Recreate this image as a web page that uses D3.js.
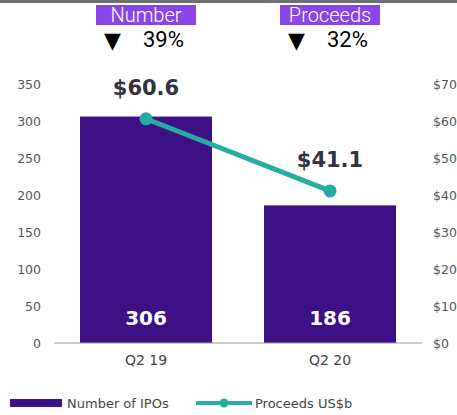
<!DOCTYPE html>
<html>
<head>
<meta charset="utf-8">
<script src="https://cdnjs.cloudflare.com/ajax/libs/d3/7.8.5/d3.min.js"></script>
<style>
  body { margin: 0; background: #fff; }
  svg { display: block; font-family: "DejaVu Sans", sans-serif; }
</style>
</head>
<body>
<script>
// Data
var quarters = ["Q2 19", "Q2 20"];
var ipoCounts = [306, 186];
var proceeds = [60.6, 41.1];
var countTicks = [0, 50, 100, 150, 200, 250, 300, 350];
var proceedTicks = [0, 10, 20, 30, 40, 50, 60, 70];
var headers = ["Number", "Proceeds"];
var changes = ["39%", "32%"];
var legendLabels = ["Number of IPOs", "Proceeds US$b"];

var width = 457, height = 415;
var barColor = "#3d1185", lineColor = "#27aba2", tagColor = "#8b45e6";

var svg = d3.select("body").append("svg")
    .attr("width", width)
    .attr("height", height);

// top rule
svg.append("rect")
    .attr("x", 0).attr("y", 0)
    .attr("width", width).attr("height", 3)
    .attr("fill", "#6f6f78");

//Scales
var xscale = d3.scaleBand()
    .domain(quarters)
    .range([54, 422])
    .paddingInner(52 / 184)
    .paddingOuter(26 / 184);

var yLeft = d3.scaleLinear().domain([0, 350]).range([343, 84]);
var yRight = d3.scaleLinear().domain([0, 70]).range([343, 84]);

//Left axis
var leftAxis = svg.append("g")
    .attr("transform", "translate(46,0)")
    .call(d3.axisLeft(yLeft).tickValues(countTicks).tickSize(0).tickPadding(5));
leftAxis.select(".domain").remove();
leftAxis.selectAll("text")
    .attr("fill", "#555")
    .style("font-size", "12.5px")
    .style("font-family", "DejaVu Sans");

//Right axis
var rightAxis = svg.append("g")
    .attr("transform", "translate(428,0)")
    .call(d3.axisRight(yRight).tickValues(proceedTicks).tickSize(0).tickPadding(5)
      .tickFormat(function(d){ return "$" + d; }));
rightAxis.select(".domain").remove();
rightAxis.selectAll("text")
    .attr("fill", "#555")
    .style("font-size", "12.5px")
    .style("font-family", "DejaVu Sans");

//Bars
svg.selectAll("rect.bar")
    .data(quarters).enter()
    .append("rect")
    .attr("class", "bar")
    .attr("x", function(d){ return xscale(d); })
    .attr("y", function(d, i){ return yLeft(ipoCounts[i]); })
    .attr("width", xscale.bandwidth())
    .attr("height", function(d, i){ return yLeft(0) - yLeft(ipoCounts[i]); })
    .attr("fill", barColor);

//Baseline
svg.append("line")
    .attr("x1", 54).attr("x2", 422)
    .attr("y1", yLeft(0)).attr("y2", yLeft(0))
    .attr("stroke", "#9a9a9a")
    .attr("stroke-width", 1);

//X labels
var xAxis = svg.append("g")
    .attr("transform", "translate(0," + yLeft(0) + ")")
    .call(d3.axisBottom(xscale).tickSize(0).tickPadding(12));
xAxis.select(".domain").remove();
xAxis.selectAll("text")
    .attr("fill", "#444")
    .style("font-size", "14px")
    .style("font-family", "DejaVu Sans");

//Bar value labels
svg.selectAll("text.count")
    .data(quarters).enter()
    .append("text")
    .attr("class", "count")
    .attr("x", function(d){ return xscale(d) + xscale.bandwidth() / 2; })
    .attr("y", 325)
    .attr("text-anchor", "middle")
    .attr("fill", "#fff")
    .style("font-size", "20px")
    .style("font-weight", "bold")
    .text(function(d, i){ return ipoCounts[i]; });

//Proceeds line
var line = d3.line()
    .x(function(d, i){ return xscale(quarters[i]) + xscale.bandwidth() / 2; })
    .y(function(d){ return yRight(d); });

svg.append("path")
    .datum(proceeds)
    .attr("d", line)
    .attr("fill", "none")
    .attr("stroke", lineColor)
    .attr("stroke-width", 5);

svg.selectAll("circle.pt")
    .data(proceeds).enter()
    .append("circle")
    .attr("class", "pt")
    .attr("cx", function(d, i){ return xscale(quarters[i]) + xscale.bandwidth() / 2; })
    .attr("cy", function(d){ return yRight(d); })
    .attr("r", 6.5)
    .attr("fill", lineColor);

svg.selectAll("text.proc")
    .data(proceeds).enter()
    .append("text")
    .attr("class", "proc")
    .attr("x", function(d, i){ return xscale(quarters[i]) + xscale.bandwidth() / 2; })
    .attr("y", function(d){ return yRight(d) - 24; })
    .attr("text-anchor", "middle")
    .attr("fill", "#33333d")
    .style("font-size", "21px")
    .style("font-weight", "bold")
    .text(function(d){ return "$" + d.toFixed(1); });

//Header tags
var tagX = [146, 330];
headers.forEach(function(h, i){
  svg.append("rect")
      .attr("x", tagX[i] - 50).attr("y", 5)
      .attr("width", 100).attr("height", 20)
      .attr("fill", tagColor);
  svg.append("text")
      .attr("x", tagX[i]).attr("y", 22)
      .attr("text-anchor", "middle")
      .attr("fill", "#fff")
      .style("font-family", "Roboto")
      .style("font-weight", 300)
      .style("font-size", "20px")
      .text(h);
  svg.append("text")
      .attr("x", tagX[i] - 42).attr("y", 48)
      .attr("fill", "#000")
      .style("font-family", "DejaVu Sans")
      .style("font-size", "22px")
      .text("\u25BC");
  svg.append("text")
      .attr("x", tagX[i] - 3).attr("y", 47)
      .attr("fill", "#000")
      .style("font-family", "Roboto")
      .style("font-size", "22px")
      .text(changes[i]);
});

//Legend
var legend = svg.append("g").attr("transform", "translate(0,403)");
legend.append("rect")
    .attr("x", 10).attr("y", -4)
    .attr("width", 52).attr("height", 8)
    .attr("fill", barColor);
legend.append("text")
    .attr("x", 67).attr("y", 5)
    .attr("fill", "#444")
    .style("font-size", "13px")
    .text(legendLabels[0]);
legend.append("line")
    .attr("x1", 196).attr("x2", 252)
    .attr("y1", 0).attr("y2", 0)
    .attr("stroke", lineColor)
    .attr("stroke-width", 4);
legend.append("circle")
    .attr("cx", 224).attr("cy", 0).attr("r", 4.5)
    .attr("fill", lineColor);
legend.append("text")
    .attr("x", 255).attr("y", 5)
    .attr("fill", "#444")
    .style("font-size", "13px")
    .text(legendLabels[1]);
</script>
</body>
</html>
